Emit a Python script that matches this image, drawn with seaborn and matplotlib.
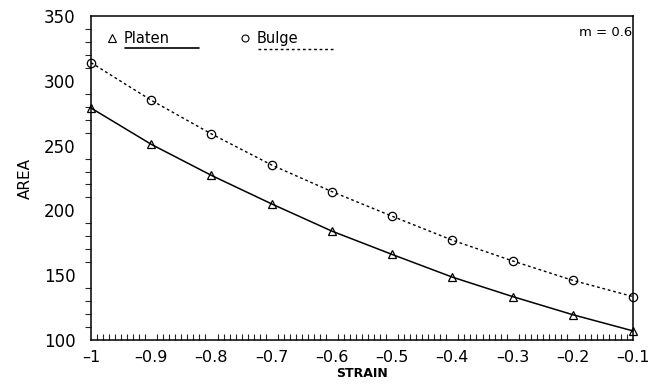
import numpy as np
import pandas as pd
import matplotlib
matplotlib.use("Agg")
import matplotlib.pyplot as plt
from matplotlib.ticker import MultipleLocator
import seaborn as sns

strain = [-1.0, -0.9, -0.8, -0.7, -0.6, -0.5, -0.4, -0.3, -0.2, -0.1]
platen = [279, 251, 227, 205, 184, 166, 148.5, 133.5, 119.5, 107]
bulge = [314, 285, 259, 235, 214.5, 195.5, 177, 161, 146, 133.5]
series_names = ["Platen", "Bulge"]
x_ticks = [-1, -0.9, -0.8, -0.7, -0.6, -0.5, -0.4, -0.3, -0.2, -0.1]
x_tick_labels = ["\u20131", "\u20130.9", "\u20130.8", "\u20130.7", "\u20130.6",
                 "\u20130.5", "\u20130.4", "\u20130.3", "\u20130.2", "\u20130.1"]
y_ticks = [100, 150, 200, 250, 300, 350]
annotation = "m = 0.6"

df = pd.DataFrame({
    "STRAIN": strain * 2,
    "AREA": platen + bulge,
    "series": [series_names[0]] * len(strain) + [series_names[1]] * len(strain),
})

sns.set_theme(style="white")
plt.rcParams["font.family"] = ["DejaVu Sans"]

fig = plt.figure(figsize=(6.52, 3.85), dpi=100)
ax = fig.add_axes([0.1396, 0.1169, 0.8314, 0.8415])

sns.lineplot(data=df[df.series == "Platen"], x="STRAIN", y="AREA", ax=ax,
             color="black", linewidth=1.1, marker="^", markersize=6,
             markerfacecolor="none", markeredgecolor="black", markeredgewidth=0.9,
             legend=False, clip_on=False)
sns.lineplot(data=df[df.series == "Bulge"], x="STRAIN", y="AREA", ax=ax,
             color="black", linewidth=1.0, linestyle=(0, (2, 2)), marker="o", markersize=6,
             markerfacecolor="none", markeredgecolor="black", markeredgewidth=0.9,
             legend=False, clip_on=False)

ax.set_xlim(-1, -0.1)
ax.set_ylim(100, 350)
ax.set_xticks(x_ticks)
ax.set_xticklabels(x_tick_labels)
ax.set_yticks(y_ticks)
ax.xaxis.set_minor_locator(MultipleLocator(0.01))
ax.yaxis.set_minor_locator(MultipleLocator(10))
ax.tick_params(axis="x", which="major", direction="inout", length=9, width=1, labelsize=11.5, pad=3, colors="black")
ax.tick_params(axis="x", which="minor", direction="in", length=4, width=0.8, bottom=True)
ax.tick_params(axis="y", which="major", direction="out", length=8, width=1, labelsize=12, pad=3, colors="black")
ax.tick_params(axis="y", which="minor", direction="out", length=4, width=0.8, left=True)
for s in ax.spines.values():
    s.set_visible(True)
    s.set_color("black")
    s.set_linewidth(1.1)

ax.set_xlabel("STRAIN", fontsize=9, labelpad=1, fontweight="bold", color="black")
ax.set_ylabel("AREA", fontsize=11, labelpad=8, color="black")

# custom legend
tr = ax.transAxes
ax.plot([0.039], [0.932], marker="^", ms=5.5, mfc="none", mec="black", mew=0.8, transform=tr, clip_on=False)
ax.text(0.06, 0.932, series_names[0], transform=tr, fontsize=10.5, va="center", ha="left", color="black")
ax.plot([0.062, 0.199], [0.901, 0.901], color="black", lw=1.2, transform=tr)
ax.plot([0.284], [0.932], marker="o", ms=5, mfc="none", mec="black", mew=0.8, transform=tr, clip_on=False)
ax.text(0.306, 0.932, series_names[1], transform=tr, fontsize=10.5, va="center", ha="left", color="black")
ax.plot([0.308, 0.45], [0.898, 0.898], color="black", lw=1.0, linestyle=(0, (2, 2)), transform=tr)

ax.text(0.998, 0.948, annotation, transform=tr, fontsize=9.5, ha="right", va="center", color="black")

fig.savefig("out.png", dpi=100)
